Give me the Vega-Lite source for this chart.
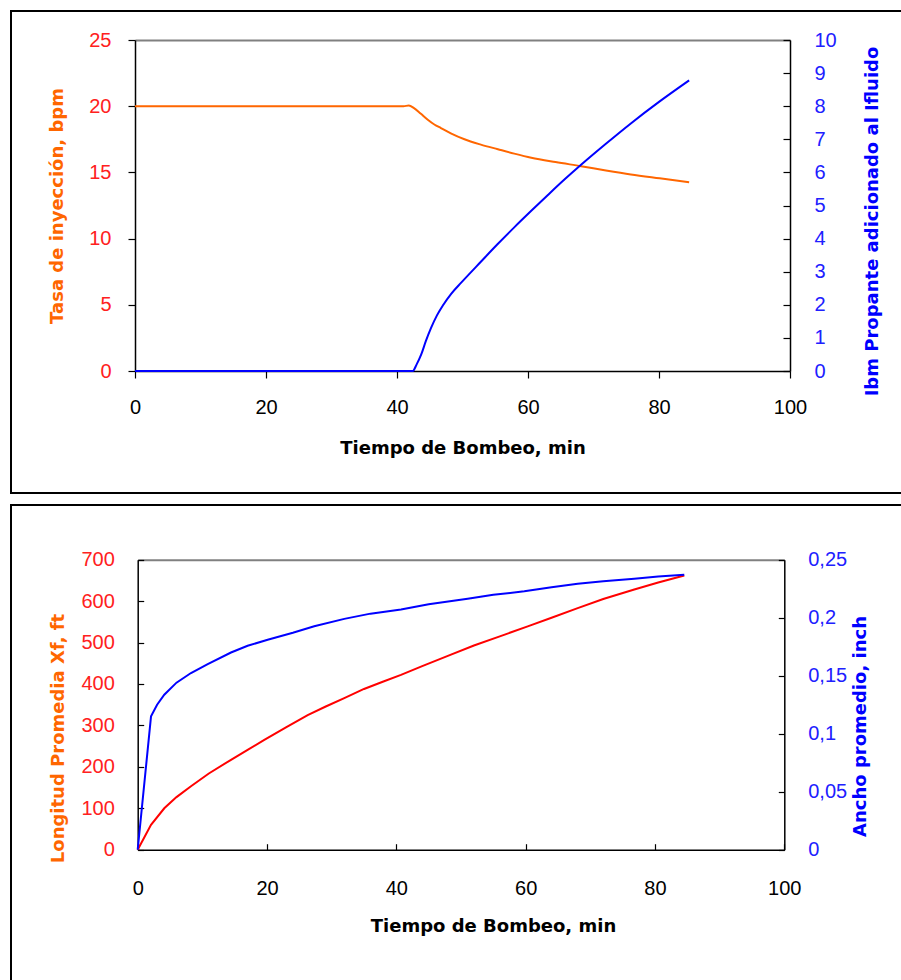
{
  "$schema": "https://vega.github.io/schema/vega-lite/v6.json",
  "padding": {"left": 10, "top": 10, "right": 0, "bottom": 0},
  "background": "white",
  "spacing": 10,
  "datasets": {
    "rate": [
      {"t": 0, "v": 20}, {"t": 20, "v": 20}, {"t": 40, "v": 20}, {"t": 41, "v": 20},
      {"t": 41.8, "v": 20.05}, {"t": 42.6, "v": 19.85}, {"t": 43.6, "v": 19.45}, {"t": 44.7, "v": 18.98},
      {"t": 45.7, "v": 18.62}, {"t": 46.7, "v": 18.35}, {"t": 48.3, "v": 17.93}, {"t": 50.3, "v": 17.5},
      {"t": 52.8, "v": 17.1}, {"t": 55.4, "v": 16.75}, {"t": 57.9, "v": 16.42}, {"t": 60.5, "v": 16.11},
      {"t": 64.2, "v": 15.78}, {"t": 68.1, "v": 15.47}, {"t": 71.9, "v": 15.15}, {"t": 75.7, "v": 14.85},
      {"t": 80.1, "v": 14.55}, {"t": 84.6, "v": 14.25}
    ],
    "lbm": [
      {"t": 0, "w": 0}, {"t": 20, "w": 0}, {"t": 40, "w": 0}, {"t": 42.4, "w": 0},
      {"t": 43.0, "w": 0.2}, {"t": 43.7, "w": 0.5}, {"t": 44.4, "w": 0.9}, {"t": 45.2, "w": 1.3},
      {"t": 46.1, "w": 1.68}, {"t": 47.0, "w": 1.98}, {"t": 48.3, "w": 2.34}, {"t": 49.8, "w": 2.67},
      {"t": 52.8, "w": 3.3}, {"t": 55.3, "w": 3.82}, {"t": 57.9, "w": 4.34}, {"t": 60.5, "w": 4.84},
      {"t": 63.0, "w": 5.31}, {"t": 65.6, "w": 5.79}, {"t": 68.1, "w": 6.23}, {"t": 71.8, "w": 6.85},
      {"t": 75.7, "w": 7.48}, {"t": 80.0, "w": 8.13}, {"t": 84.6, "w": 8.78}
    ],
    "xf": [
      {"t": 0, "L": 0}, {"t": 2.06, "L": 60}, {"t": 4.11, "L": 100}, {"t": 6, "L": 127},
      {"t": 8.24, "L": 153}, {"t": 11, "L": 184}, {"t": 14.43, "L": 217}, {"t": 17, "L": 241},
      {"t": 19.58, "L": 265}, {"t": 23, "L": 296}, {"t": 26.29, "L": 325}, {"t": 29, "L": 345},
      {"t": 31.95, "L": 366}, {"t": 35, "L": 388}, {"t": 38, "L": 406}, {"t": 40.72, "L": 422},
      {"t": 44, "L": 443}, {"t": 48.45, "L": 471}, {"t": 52, "L": 493}, {"t": 56, "L": 515},
      {"t": 60.32, "L": 539}, {"t": 64, "L": 560}, {"t": 68.05, "L": 583}, {"t": 72, "L": 605},
      {"t": 76.8, "L": 628}, {"t": 80.5, "L": 645}, {"t": 84.53, "L": 662}
    ],
    "ancho": [
      {"t": 0, "W": 0}, {"t": 2.06, "W": 0.115}, {"t": 3, "W": 0.125}, {"t": 4.11, "W": 0.1336},
      {"t": 6, "W": 0.144}, {"t": 8.24, "W": 0.1523}, {"t": 10.83, "W": 0.16}, {"t": 14.43, "W": 0.17},
      {"t": 17, "W": 0.1758}, {"t": 20.1, "W": 0.181}, {"t": 24, "W": 0.187}, {"t": 27.3, "W": 0.1926},
      {"t": 31.95, "W": 0.199}, {"t": 36, "W": 0.2035}, {"t": 40.72, "W": 0.207}, {"t": 45, "W": 0.2115},
      {"t": 51.03, "W": 0.2164}, {"t": 55, "W": 0.2197}, {"t": 59.79, "W": 0.2228}, {"t": 64, "W": 0.2262},
      {"t": 68.05, "W": 0.2293}, {"t": 72, "W": 0.2315}, {"t": 76.8, "W": 0.2336}, {"t": 80.5, "W": 0.2355},
      {"t": 84.53, "W": 0.2371}
    ]
  },
  "vconcat": [
    {
      "width": 900,
      "height": 482,
      "layer": [
        {
          "data": {"name": "rate"},
          "mark": {"type": "line", "color": "#FF6600", "strokeWidth": 2, "interpolate": "monotone"},
          "encoding": {
            "x": {"field": "t", "type": "quantitative",
              "scale": {"domain": [0, 100], "range": [124, 779], "nice": false, "zero": false},
              "axis": {"orient": "bottom", "offset": -122, "values": [0, 20, 40, 60, 80, 100],
                "title": "Tiempo de Bombeo, min", "tickSize": 7, "labelPadding": 19.5, "titlePadding": 22}},
            "y": {"field": "v", "type": "quantitative",
              "scale": {"domain": [0, 25], "range": [360, 29], "nice": false, "zero": false},
              "axis": {"orient": "left", "offset": -124, "values": [0, 5, 10, 15, 20, 25],
                "title": "Tasa de inyección, bpm", "titleColor": "#FF6600", "labelColor": "#FF2020",
                "tickSize": 7, "labelPadding": 17, "titlePadding": 22}}
          }
        },
        {
          "data": {"name": "lbm"},
          "mark": {"type": "line", "color": "#0000FF", "strokeWidth": 2, "interpolate": "monotone"},
          "encoding": {
            "x": {"field": "t", "type": "quantitative",
              "scale": {"domain": [0, 100], "range": [124, 779], "nice": false, "zero": false},
              "axis": {"orient": "top", "offset": -29, "labels": false, "ticks": false, "title": null,
                "domainColor": "#808080", "domainWidth": 2}},
            "y": {"field": "w", "type": "quantitative",
              "scale": {"domain": [0, 10], "range": [360, 29], "nice": false, "zero": false},
              "axis": {"orient": "right", "offset": -121, "values": [0, 1, 2, 3, 4, 5, 6, 7, 8, 9, 10],
                "title": "Ibm Propante adicionado al Ifluido", "titleColor": "#0000FF", "labelColor": "#2020FF",
                "tickSize": -7, "labelPadding": 31, "titlePadding": 27, "titleAngle": 270,
                "titleBaseline": "top", "titleY": 210}}
          }
        }
      ],
      "resolve": {"scale": {"x": "independent", "y": "independent"}}
    },
    {
      "width": 900,
      "height": 490,
      "layer": [
        {
          "data": {"name": "xf"},
          "mark": {"type": "line", "color": "#FF0000", "strokeWidth": 2},
          "encoding": {
            "x": {"field": "t", "type": "quantitative",
              "scale": {"domain": [0, 100], "range": [126.7, 773.3], "nice": false, "zero": false},
              "axis": {"orient": "bottom", "offset": -145.3, "values": [0, 20, 40, 60, 80, 100],
                "title": "Tiempo de Bombeo, min", "tickSize": -6, "labelPadding": 34.5, "titlePadding": 19,
                "titleX": 482}},
            "y": {"field": "L", "type": "quantitative",
              "scale": {"domain": [0, 700], "range": [344.7, 54.7], "nice": false, "zero": false},
              "axis": {"orient": "left", "offset": -126.7, "values": [0, 100, 200, 300, 400, 500, 600, 700],
                "title": "Longitud Promedia Xf, ft", "titleColor": "#FF6600", "labelColor": "#FF2020",
                "tickSize": -6, "labelPadding": 29.4, "titlePadding": 13, "titleY": 233}}
          }
        },
        {
          "data": {"name": "ancho"},
          "mark": {"type": "line", "color": "#0000FF", "strokeWidth": 2},
          "encoding": {
            "x": {"field": "t", "type": "quantitative",
              "scale": {"domain": [0, 100], "range": [126.7, 773.3], "nice": false, "zero": false},
              "axis": {"orient": "top", "offset": -54.7, "labels": false, "ticks": false, "title": null,
                "domainColor": "#808080", "domainWidth": 2}},
            "y": {"field": "W", "type": "quantitative",
              "scale": {"domain": [0, 0.25], "range": [344.7, 54.7], "nice": false, "zero": false},
              "axis": {"orient": "right", "offset": -126.7, "values": [0, 0.05, 0.1, 0.15, 0.2, 0.25],
                "format": ".2~f", "labelExpr": "replace(datum.label, '.', ',')",
                "title": "Ancho promedio, inch", "titleColor": "#0000FF", "labelColor": "#2020FF",
                "tickSize": -6, "labelPadding": 29.4, "titlePadding": 5, "titleAngle": 270,
                "titleBaseline": "top", "titleY": 221}}
          }
        }
      ],
      "resolve": {"scale": {"x": "independent", "y": "independent"}}
    }
  ],
  "config": {
    "view": {"stroke": "#000000", "strokeWidth": 2},
    "axis": {
      "grid": false, "domainColor": "#000000", "domainWidth": 1.5, "tickColor": "#000000", "tickWidth": 1.2,
      "labelFont": "Liberation Sans", "labelFontSize": 20, "labelColor": "#000000",
      "titleFont": "DejaVu Sans", "titleFontSize": 18, "titleFontWeight": "bold", "titleColor": "#000000",
      "labelFlush": false, "labelOverlap": false
    }
  }
}
